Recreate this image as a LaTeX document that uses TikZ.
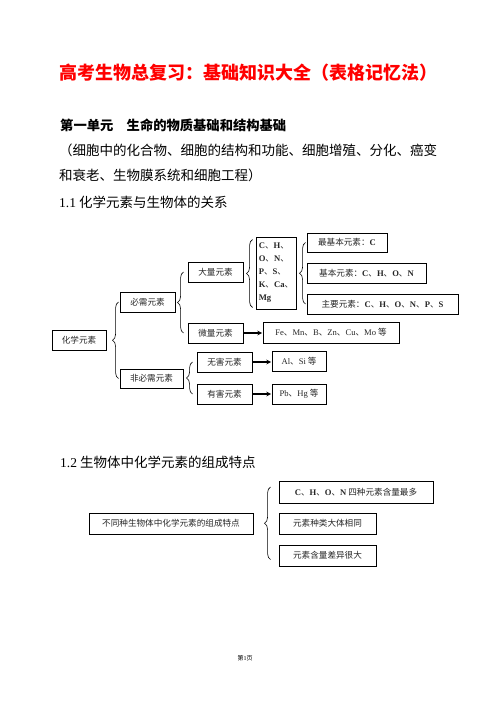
\documentclass[tikz,border=0pt]{standalone}
\usepackage{fontspec}
\setmainfont{Liberation Serif}
\newfontfamily\cjk{Noto Sans CJK SC}
\usetikzlibrary{decorations.pathreplacing,calc}
\newcommand\E[1]{{\rmfamily #1}}
\newcommand\EB[1]{{\rmfamily\bfseries #1}}
\begin{document}
\begin{tikzpicture}[x=1pt,y=-1pt,
  box/.style={draw, line width=0.9pt, inner sep=0pt, font=\fontsize{8.6}{10}\cjk, text=black!85},
  brc/.style={decorate, decoration={brace, amplitude=6pt}, line width=0.6pt},
  linkarrow/.style={draw=black, line width=1.1pt, -stealth},
  txt/.style={anchor=west, inner sep=0pt},
  body/.style={txt, font=\fontsize{13.5}{15}\cjk},
  ]
\useasboundingbox (0,0) rectangle (496,702);
% texts
\node[txt, font=\fontsize{18}{20}\cjk\bfseries, text=red] (title) at (59,73) {高考生物总复习：基础知识大全（表格记忆法）};
\node[txt, font=\fontsize{13.3}{15}\cjk\bfseries] (unit) at (60,125) {第一单元　生命的物质基础和结构基础};
\node[body] (sub1) at (59,150) {（细胞中的化合物、细胞的结构和功能、细胞增殖、分化、癌变};
\node[body] (sub2) at (59,175) {和衰老、生物膜系统和细胞工程）};
\node[body] (s11) at (59,202) {\E{1.1} 化学元素与生物体的关系};
\node[body] (s12) at (60,462) {\E{1.2} 生物体中化学元素的组成特点};
\node[inner sep=0pt, font=\fontsize{6}{7}\cjk] (pg) at (245,658) {第\E{1}页};
% diagram 1
\node[box, minimum width=54, minimum height=20] (hx) at (79,340) {化学元素};
\node[box, minimum width=55, minimum height=20] (bx) at (147.5,302) {必需元素};
\node[box, minimum width=63, minimum height=19] (fbx) at (151.5,378.5) {非必需元素};
\node[box, minimum width=55, minimum height=20] (dl) at (215.5,272) {大量元素};
\node[box, minimum width=55, minimum height=20] (wl) at (215.5,333) {微量元素};
\node[box, minimum width=55, minimum height=20] (wh) at (224.5,362) {无害元素};
\node[box, minimum width=55, minimum height=20] (yh) at (224.5,394) {有害元素};
\node[box, minimum width=40, minimum height=72, align=left, font=\fontsize{8.6}{13}\cjk] (ch) at (276,273)
  {\EB{C}、\EB{H}、\\\EB{O}、\EB{N}、\\\EB{P}、\EB{S}、\\\EB{K}、\EB{Ca}、\\\EB{Mg}};
\node[box, minimum width=80, minimum height=19] (zj) at (347,242.5) {最基本元素：\EB{C}};
\node[box, minimum width=119, minimum height=20] (jb) at (366.5,273) {基本元素：\EB{C}、\EB{H}、\EB{O}、\EB{N}};
\node[box, minimum width=151, minimum height=20] (zy) at (382.5,304) {主要元素：\EB{C}、\EB{H}、\EB{O}、\EB{N}、\EB{P}、\EB{S}};
\node[box, minimum width=136, minimum height=21] (fe) at (331,332.5) {\E{Fe}、\E{Mn}、\E{B}、\E{Zn}、\E{Cu}、\E{Mo} 等};
\node[box, minimum width=54, minimum height=20] (al) at (299,361) {\E{Al}、\E{Si} 等};
\node[box, minimum width=54, minimum height=20] (pb) at (299,394) {\E{Pb}、\E{Hg} 等};
% diagram 2
\node[box, minimum width=164, minimum height=21] (tz) at (171,523.5) {不同种生物体中化学元素的组成特点};
\node[box, minimum width=154, minimum height=22] (t1) at (356,492) {\EB{C}、\EB{H}、\EB{O}、\EB{N} 四种元素含量最多};
\node[box, minimum width=97, minimum height=21] (t2) at (327.5,523.5) {元素种类大体相同};
\node[box, minimum width=97, minimum height=21] (t3) at (327.5,555.5) {元素含量差异很大};
% braces
\draw[brc] ($(bx.west |- fbx.center)+(-1,0)$) -- ($(bx.west |- bx.center)+(-1,0)$);
\draw[brc] ($(dl.west |- wl.center)+(-4,0)$) -- ($(dl.west |- dl.center)+(-4,0)$);
\draw[brc] ($(wh.west |- yh.center)+(-4,0)$) -- ($(wh.west |- wh.center)+(-4,0)$);
\draw[brc] ($(ch.south west)+(-3,-2)$) -- ($(ch.north west)+(-3,3)$);
\draw[brc] ($(zj.west |- zy.center)+(-1,0)$) -- ($(zj.west |- zj.center)+(-1,0)$);
\draw[brc] ($(t1.west |- t3.center)+(-8,4)$) -- ($(t1.west |- t1.center)+(-8,-5)$);
% arrows
\begin{scope}
\draw[linkarrow] ($(wl.east)+(1,0)$) -- ($(wl.east -| fe.west)+(-0.5,0)$);
\draw[linkarrow] ($(wh.east)+(1,0)$) -- ($(wh.east -| al.west)+(-0.5,0)$);
\draw[linkarrow] ($(yh.east)+(1,0)$) -- ($(yh.east -| pb.west)+(-0.5,0)$);
\end{scope}
\end{tikzpicture}
\end{document}
